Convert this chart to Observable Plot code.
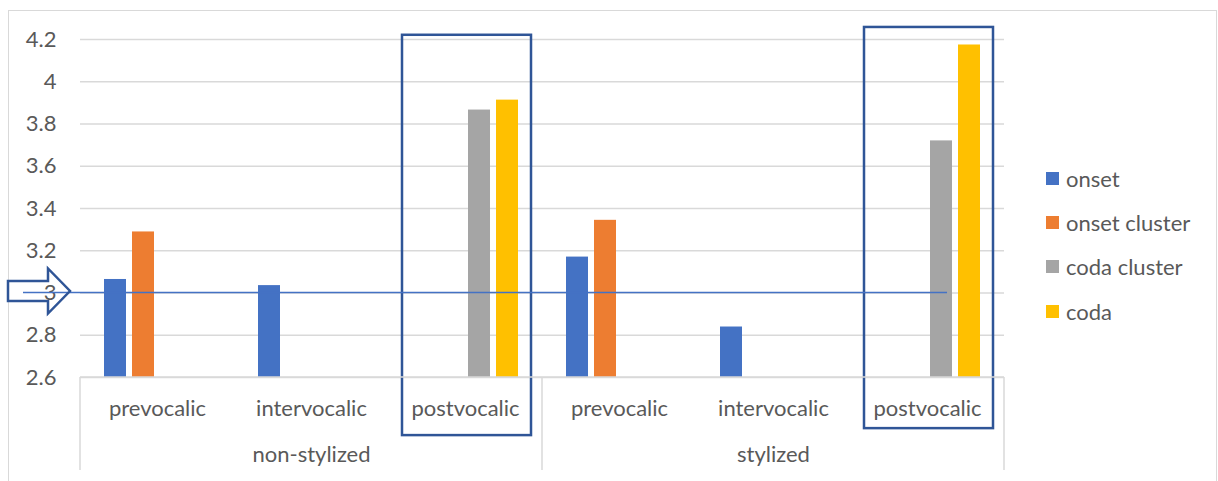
<!DOCTYPE html>
<html>
<head>
<meta charset="utf-8">
<script src="https://cdn.jsdelivr.net/npm/d3@7"></script>
<script src="https://cdn.jsdelivr.net/npm/@observablehq/plot@0.6"></script>
<style>
  body { margin: 0; background: #fff; }
  #wrap { position: relative; width: 1218px; height: 481px; overflow: hidden; font-family: Lato, sans-serif; }
  #border { position: absolute; left: 8px; top: 10px; width: 1207px; height: 480px;
            border-left: 1.5px solid #d9d9d9; border-top: 1.5px solid #d9d9d9; border-right: 1.5px solid #d9d9d9; }
  #chart { position: absolute; left: 0; top: 0; }
  #legend { position: absolute; left: 1046px; top: 0; color: #595959; font-size: 22px; }
  .item { position: absolute; white-space: nowrap; display: flex; align-items: center; height: 30px; }
  .sw { width: 13px; height: 13px; margin-right: 7px; }
</style>
</head>
<body>
<div id="wrap">
  <div id="border"></div>
  <div id="chart"></div>
  <div id="legend"></div>
</div>
<script>
// ---- data ----
const groups = ["non-stylized", "stylized"];
const subgroups = ["prevocalic", "intervocalic", "postvocalic"];
const series = ["onset", "onset cluster", "coda cluster", "coda"];
const colors = ["#4472C4", "#ED7D31", "#A5A5A5", "#FFC000"];
// values per subgroup in order: NS-pre, NS-inter, NS-post, S-pre, S-inter, S-post
const onset        = [3.064, 3.035, null, 3.170, 2.839, null];
const onsetCluster = [3.289, null, null, 3.344, null, null];
const codaCluster  = [null, null, 3.866, null, null, 3.720];
const coda         = [null, null, 3.913, null, null, 4.174];
const yTicks = [2.6, 2.8, 3, 3.2, 3.4, 3.6, 3.8, 4, 4.2];
const yMin = 2.6, yMax = 4.2;
const referenceValue = 3;
// highlight boxes (subgroup key, y extent in data units)
const highlightKeys = ["non-stylized|postvocalic", "stylized|postvocalic"];
const highlightY1 = [2.325, 2.358];
const highlightY2 = [4.22, 4.257];

// ---- build table ----
const keys = groups.flatMap(g => subgroups.map(s => g + "|" + s));
const seriesValues = [onset, onsetCluster, codaCluster, coda];
const rows = [];
seriesValues.forEach((vals, j) => vals.forEach((v, i) => {
  if (v != null) rows.push({key: keys[i], series: series[j], value: v});
}));
const groupLabels = groups.map((g, i) => ({key: keys[i * 3 + 1], label: g}));
const boxes = highlightKeys.map((k, i) => ({key: k, y1: highlightY1[i], y2: highlightY2[i]}));

const plot = Plot.plot({
  width: 1218,
  height: 481,
  marginLeft: 79,
  marginRight: 213,
  marginTop: 39,
  marginBottom: 104,
  style: {fontFamily: "Lato, sans-serif", fontSize: "22px", color: "#595959", background: "transparent", overflow: "visible"},
  fx: {domain: keys, padding: 0, axis: "bottom", tickSize: 0, tickPadding: 23, label: null,
       tickFormat: d => d.split("|")[1]},
  x: {domain: series, paddingInner: 0.22, paddingOuter: 0.84, axis: null},
  y: {domain: [yMin, yMax], ticks: yTicks, tickFormat: d => `${d}`, tickSize: 0, tickPadding: 24, label: null},
  color: {domain: series, range: colors},
  marks: [
    Plot.gridY(yTicks, {stroke: "#d9d9d9", strokeOpacity: 1, strokeWidth: 1.4}),
    Plot.barY(rows, {fx: "key", x: "series", y1: yMin, y2: "value", fill: "series"}),
    Plot.rect(boxes, {fx: "key", y1: "y1", y2: "y2", insetLeft: 14, insetRight: 11,
                      fill: "none", stroke: "#2F5597", strokeWidth: 2.5}),
    Plot.text(groupLabels, {fx: "key", text: "label", frameAnchor: "bottom", dy: 84, fill: "#595959"})
  ]
});
document.getElementById("chart").appendChild(plot);

// ---- annotations drawn with the plot's own scales ----
const svg = d3.select(plot);
const ys = plot.scale("y");
const fxs = plot.scale("fx");
const bw = fxs.bandwidth;
const yBase = ys.apply(yMin);
const left = fxs.apply(keys[0]);
const right = fxs.apply(keys[keys.length - 1]) + bw;
const mid = fxs.apply(keys[3]);
const g = svg.append("g");
// category axis baseline
g.append("line").attr("x1", left).attr("x2", right).attr("y1", yBase).attr("y2", yBase)
  .attr("stroke", "#d9d9d9").attr("stroke-width", 1.5);
// group dividers
[left, mid, right].forEach(x => {
  g.append("line").attr("x1", x).attr("x2", x).attr("y1", yBase).attr("y2", yBase + 93)
    .attr("stroke", "#d9d9d9").attr("stroke-width", 1.5);
});
// reference line at 3
const yRef = ys.apply(referenceValue);
const refEnd = fxs.apply(keys[5]) + bw * 0.63;
g.append("line").attr("x1", 23).attr("x2", refEnd).attr("y1", yRef).attr("y2", yRef)
  .attr("stroke", "#4472C4").attr("stroke-width", 1.5);
// hollow arrow pointing at the reference line
const ay = yRef - 1.5;
const arrow = [[8, ay - 10], [48, ay - 10], [48, ay - 22.5], [70, ay], [48, ay + 22.5], [48, ay + 10], [8, ay + 10]];
g.append("path").attr("d", "M" + arrow.map(p => p.join(",")).join("L") + "Z")
  .attr("fill", "white").attr("fill-opacity", 0).attr("stroke", "#2F5597").attr("stroke-width", 2.5)
  .attr("stroke-linejoin", "miter");

// ---- legend ----
const legend = document.getElementById("legend");
const legendY = [180, 224, 268, 313];
series.forEach((s, i) => {
  const it = document.createElement("div");
  it.className = "item";
  it.style.top = (legendY[i] - 17) + "px";
  it.innerHTML = `<div class="sw" style="background:${colors[i]}"></div><span>${s}</span>`;
  legend.appendChild(it);
});
</script>
</body>
</html>
